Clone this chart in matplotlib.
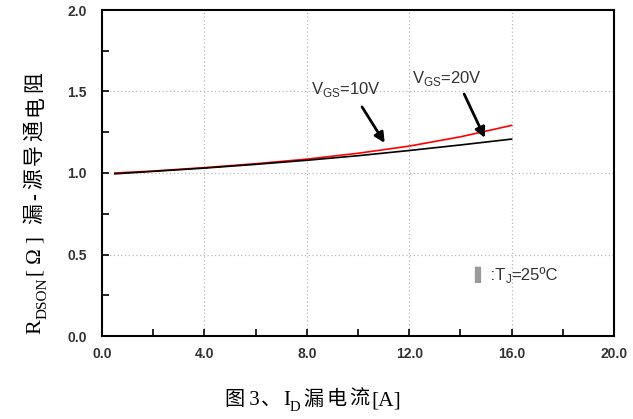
import matplotlib
matplotlib.use("Agg")
import matplotlib.pyplot as plt
from matplotlib.ticker import MultipleLocator

# data
id_a = [0.5, 2.0, 4.0, 6.0, 8.0, 10.0, 12.0, 14.0, 16.0]
rds_10v = [0.995, 1.01, 1.03, 1.053, 1.078, 1.106, 1.138, 1.172, 1.208]
rds_20v = [1.0, 1.012, 1.033, 1.057, 1.085, 1.121, 1.165, 1.222, 1.292]

xticks = [0, 4, 8, 12, 16, 20]
xtick_labels = ["0.0", "4.0", "8.0", "12.0", "16.0", "20.0"]
yticks = [0.0, 0.5, 1.0, 1.5, 2.0]
ytick_labels = ["0.0", "0.5", "1.0", "1.5", "2.0"]

sans = "Liberation Sans"
serif = ["Liberation Serif", "Noto Sans CJK SC"]

fig = plt.figure(figsize=(6.33, 4.19), dpi=100)
ax = fig.add_axes([102 / 633, 1 - 336 / 419, 512 / 633, 326 / 419])

ax.plot(id_a, rds_20v, color="red", lw=1.2, zorder=3)
ax.plot(id_a, rds_10v, color="black", lw=1.2, zorder=4)

ax.set_xlim(0, 20)
ax.set_ylim(0, 2)
ax.set_xticks(xticks)
ax.set_xticklabels(xtick_labels)
ax.set_yticks(yticks)
ax.set_yticklabels(ytick_labels)
ax.xaxis.set_minor_locator(MultipleLocator(2))
ax.yaxis.set_minor_locator(MultipleLocator(0.25))
ax.tick_params(which="both", direction="in", length=5, width=1.2, color="black",
               top=False, right=False)
ax.tick_params(axis="x", pad=8)
ax.tick_params(axis="y", pad=11)
for lab in ax.get_xticklabels() + ax.get_yticklabels():
    lab.set_fontfamily(sans)
    lab.set_fontsize(10)
    lab.set_fontweight("bold")
    lab.set_color("#333333")

for v in [4, 8, 12, 16]:
    ax.axvline(v, color="#bbbbbb", lw=0.9, ls=(0, (1, 2)), zorder=1)
for v in [0.5, 1.0, 1.5]:
    ax.axhline(v, color="#bbbbbb", lw=0.9, ls=(0, (1, 2)), zorder=1)

for s in ax.spines.values():
    s.set_linewidth(1.5)

# annotations
ax.text(8.15, 1.51, r"V$_{\mathregular{GS}}$=10V", fontfamily=sans, fontsize=12,
        color="#333333", va="center")
ax.annotate("", xy=(11.1, 1.17), xytext=(10.1, 1.42),
            arrowprops=dict(arrowstyle="-|>,head_length=0.6,head_width=0.3",
                            color="black", lw=2))
ax.text(12.1, 1.58, r"V$_{\mathregular{GS}}$=20V", fontfamily=sans, fontsize=12,
        color="#333333", va="center")
ax.annotate("", xy=(15.0, 1.2), xytext=(14.1, 1.5),
            arrowprops=dict(arrowstyle="-|>,head_length=0.6,head_width=0.3",
                            color="black", lw=2))


def row(x, y, pieces, rotated=False):
    # pieces: (text, fontsize, subscript shift pt, gap pt before, family, color)
    objs = []
    last_shift = 0
    for i, (s, size, shift, gap, fam, color) in enumerate(pieces):
        kw = dict(fontsize=size, family=fam, color=color)
        if rotated:
            kw.update(rotation=90, ha="right", va="bottom")
        else:
            kw.update(ha="left", va="bottom")
        if i == 0:
            t = fig.text(x, y, s, **kw)
        else:
            d = shift - last_shift
            if rotated:
                t = ax.annotate(s, xy=(1, 1), xycoords=objs[-1],
                                xytext=(d, gap), textcoords="offset points",
                                annotation_clip=False, **kw)
            else:
                t = ax.annotate(s, xy=(1, 0), xycoords=objs[-1],
                                xytext=(gap, -d), textcoords="offset points",
                                annotation_clip=False, **kw)
        last_shift = shift
        objs.append(t)
    return objs


row(474 / 633, 1 - 283 / 419, [
    ("\u258C", 11.5, 0, 0, ["DejaVu Sans"], "#9a9a9a"),
    (" :T", 12, 0, 0, [sans], "#333333"),
    ("J", 8.5, 2, 0, [sans], "#333333"),
    ("=25ºC", 12, 0, 0, [sans], "#333333"),
])

ylab = [("R", 16, 0, 0, serif, "black"),
        ("DSON", 11, 3.5, 0, serif, "black"),
        ("[ Ω ]", 15, 0, 1, serif, "black")]
for ch in " 漏-源导通电阻":
    ylab.append((ch, 15, 0, 2.5, serif, "black"))
row(45 / 633, 1 - 334 / 419, ylab, rotated=True)

xlab = [("图", 14.5, 0, 0, serif, "black"),
        (" 3", 15, 0, 0, serif, "black"),
        ("、", 14.5, 0, 1, serif, "black"),
        ("I", 15, 0, 1, serif, "black"),
        ("D", 10.5, 3, 0, serif, "black")]
for ch in "漏电流":
    xlab.append((ch, 14.5, 0, 2, serif, "black"))
xlab.append(("[A]", 15.5, 0, 1.5, serif, "black"))
row(224 / 633, 1 - 410 / 419, xlab)

fig.savefig("out.png", dpi=100)
